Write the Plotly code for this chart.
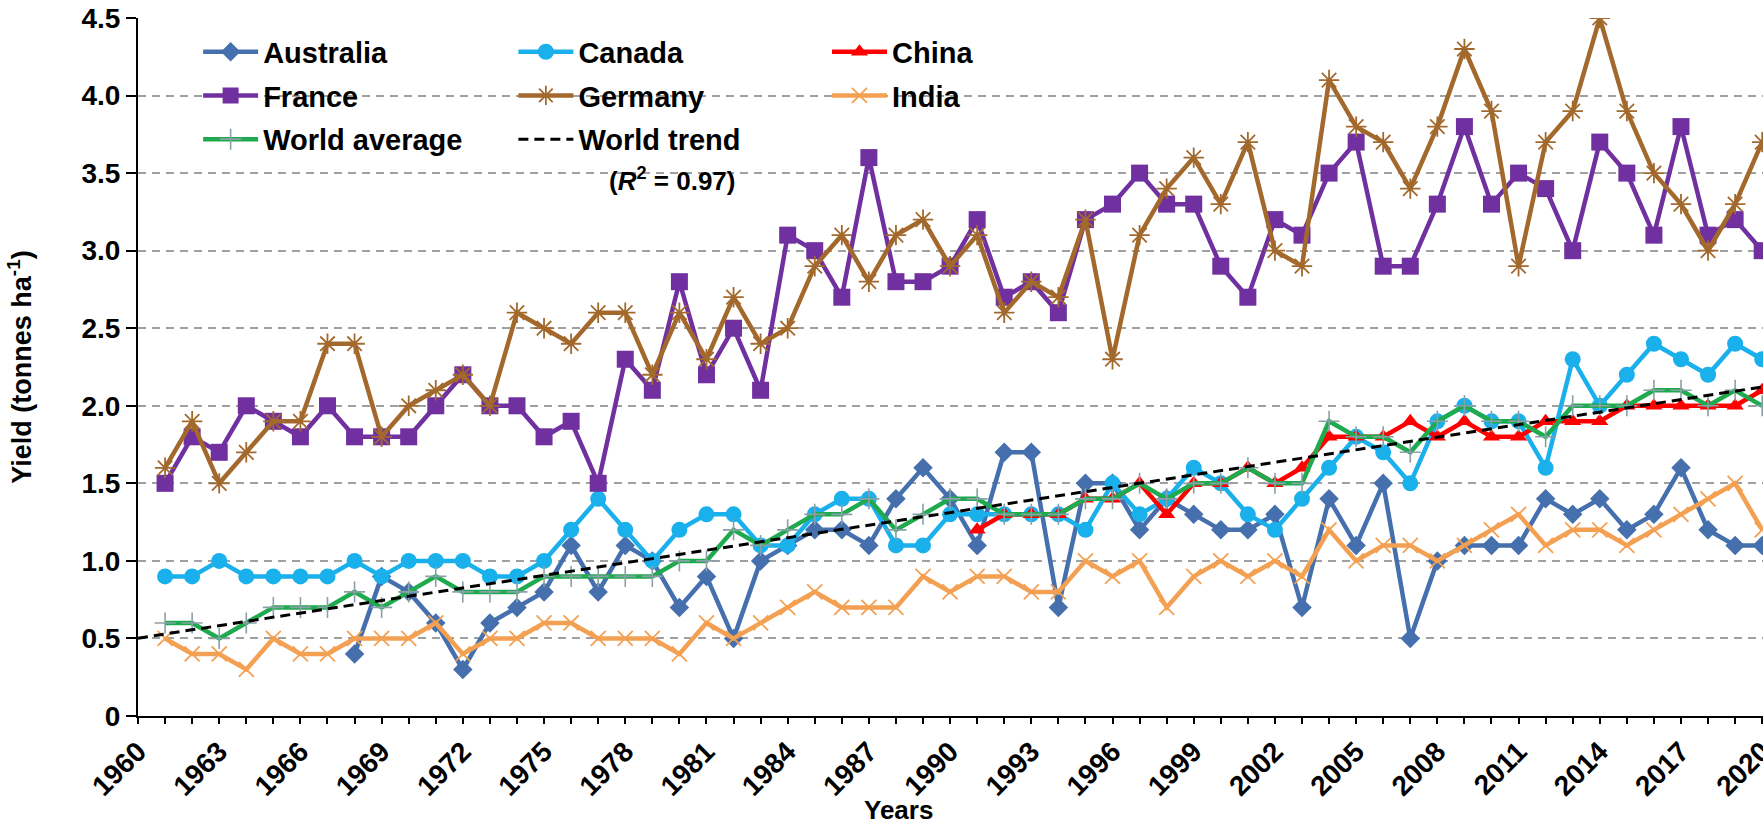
import numpy as np
import plotly.graph_objects as go

# ---------------- data ----------------
years = list(range(1961, 2021))
australia_years = list(range(1968, 2021))
china_years = list(range(1991, 2021))

australia = [0.4, 0.9, 0.8, 0.6, 0.3, 0.6, 0.7, 0.8, 1.1, 0.8,
             1.1, 1.0, 0.7, 0.9, 0.5, 1.0, 1.1, 1.2, 1.2, 1.1,
             1.4, 1.6, 1.4, 1.1, 1.7, 1.7, 0.7, 1.5, 1.5, 1.2,
             1.4, 1.3, 1.2, 1.2, 1.3, 0.7, 1.4, 1.1, 1.5, 0.5,
             1.0, 1.1, 1.1, 1.1, 1.4, 1.3, 1.4, 1.2, 1.3, 1.6,
             1.2, 1.1, 1.1]

canada = [0.9, 0.9, 1.0, 0.9, 0.9, 0.9, 0.9, 1.0, 0.9, 1.0,
          1.0, 1.0, 0.9, 0.9, 1.0, 1.2, 1.4, 1.2, 1.0, 1.2,
          1.3, 1.3, 1.1, 1.1, 1.3, 1.4, 1.4, 1.1, 1.1, 1.3,
          1.3, 1.3, 1.3, 1.3, 1.2, 1.5, 1.3, 1.4, 1.6, 1.5,
          1.3, 1.2, 1.4, 1.6, 1.8, 1.7, 1.5, 1.9, 2.0, 1.9,
          1.9, 1.6, 2.3, 2.0, 2.2, 2.4, 2.3, 2.2, 2.4, 2.3]

china = [1.2, 1.3, 1.3, 1.3, 1.4, 1.4, 1.5, 1.3, 1.5, 1.5,
         1.6, 1.5, 1.6, 1.8, 1.8, 1.8, 1.9, 1.8, 1.9, 1.8,
         1.8, 1.9, 1.9, 1.9, 2.0, 2.0, 2.0, 2.0, 2.0, 2.1]

france = [1.5, 1.8, 1.7, 2.0, 1.9, 1.8, 2.0, 1.8, 1.8, 1.8,
          2.0, 2.2, 2.0, 2.0, 1.8, 1.9, 1.5, 2.3, 2.1, 2.8,
          2.2, 2.5, 2.1, 3.1, 3.0, 2.7, 3.6, 2.8, 2.8, 2.9,
          3.2, 2.7, 2.8, 2.6, 3.2, 3.3, 3.5, 3.3, 3.3, 2.9,
          2.7, 3.2, 3.1, 3.5, 3.7, 2.9, 2.9, 3.3, 3.8, 3.3,
          3.5, 3.4, 3.0, 3.7, 3.5, 3.1, 3.8, 3.1, 3.2, 3.0]

germany = [1.6, 1.9, 1.5, 1.7, 1.9, 1.9, 2.4, 2.4, 1.8, 2.0,
           2.1, 2.2, 2.0, 2.6, 2.5, 2.4, 2.6, 2.6, 2.2, 2.6,
           2.3, 2.7, 2.4, 2.5, 2.9, 3.1, 2.8, 3.1, 3.2, 2.9,
           3.1, 2.6, 2.8, 2.7, 3.2, 2.3, 3.1, 3.4, 3.6, 3.3,
           3.7, 3.0, 2.9, 4.1, 3.8, 3.7, 3.4, 3.8, 4.3, 3.9,
           2.9, 3.7, 3.9, 4.5, 3.9, 3.5, 3.3, 3.0, 3.3, 3.7]

india = [0.5, 0.4, 0.4, 0.3, 0.5, 0.4, 0.4, 0.5, 0.5, 0.5,
         0.6, 0.4, 0.5, 0.5, 0.6, 0.6, 0.5, 0.5, 0.5, 0.4,
         0.6, 0.5, 0.6, 0.7, 0.8, 0.7, 0.7, 0.7, 0.9, 0.8,
         0.9, 0.9, 0.8, 0.8, 1.0, 0.9, 1.0, 0.7, 0.9, 1.0,
         0.9, 1.0, 0.9, 1.2, 1.0, 1.1, 1.1, 1.0, 1.1, 1.2,
         1.3, 1.1, 1.2, 1.2, 1.1, 1.2, 1.3, 1.4, 1.5, 1.2]

world_avg = [0.6, 0.6, 0.5, 0.6, 0.7, 0.7, 0.7, 0.8, 0.7, 0.8,
             0.9, 0.8, 0.8, 0.8, 0.9, 0.9, 0.9, 0.9, 0.9, 1.0,
             1.0, 1.2, 1.1, 1.2, 1.3, 1.3, 1.4, 1.2, 1.3, 1.4,
             1.4, 1.3, 1.3, 1.3, 1.4, 1.4, 1.5, 1.4, 1.5, 1.5,
             1.6, 1.5, 1.5, 1.9, 1.8, 1.8, 1.7, 1.9, 2.0, 1.9,
             1.9, 1.8, 2.0, 2.0, 2.0, 2.1, 2.1, 2.0, 2.1, 2.0]

x_tick_years = list(range(1960, 2021, 3))
x_tick_labels = [str(y) for y in x_tick_years]
y_tick_vals = [0, 0.5, 1.0, 1.5, 2.0, 2.5, 3.0, 3.5, 4.0, 4.5]
y_tick_labels = ["0", "0.5", "1.0", "1.5", "2.0", "2.5", "3.0", "3.5", "4.0", "4.5"]

# linear trend of world average (extended one year each side, like the spreadsheet trendline)
fit = np.polyfit(years, world_avg, 1)
trend_x = [years[0] - 1, years[-1] + 1]
trend_y = list(np.polyval(fit, trend_x))

FONT = "Liberation Sans, Arial, sans-serif"

fig = go.Figure()


def add_series(x, y, name, color, symbol, size, legend, open_marker=False, line_w=4.5):
    if open_marker:
        marker = dict(symbol=symbol, size=size, color=color, line=dict(width=1.8, color=color))
    else:
        marker = dict(symbol=symbol, size=size, color=color, line=dict(width=0))
    fig.add_trace(go.Scatter(x=x, y=y, name=name, mode="lines+markers",
                             line=dict(color=color, width=line_w), marker=marker,
                             legend=legend, legendgroup=name))


add_series(australia_years, australia, "Australia", "#4570ad", "diamond", 15, "legend")
add_series(years, canada, "Canada", "#1ab0ec", "circle", 16, "legend2")
add_series(china_years, china, "China", "#ff0000", "triangle-up", 15, "legend3")
add_series(years, france, "France", "#7030a0", "square", 17, "legend")
add_series(years, germany, "Germany", "#a3692c", "asterisk-open", 17, "legend2", open_marker=True)
add_series(years, india, "India", "#f4a052", "x-thin-open", 15, "legend3", open_marker=True)
fig.add_trace(go.Scatter(x=years, y=world_avg, name="World average", mode="lines+markers",
                         line=dict(color="#1faa4f", width=4.5),
                         marker=dict(symbol="cross-thin-open", size=15, color="#8aa0a8",
                                     line=dict(width=1.6, color="#8aa0a8")),
                         legend="legend", legendgroup="World average"))
fig.add_trace(go.Scatter(x=trend_x, y=trend_y, name="World trend", mode="lines",
                         line=dict(color="black", width=3, dash="10px,6px"),
                         legend="legend2", legendgroup="World trend"))

leg_common = dict(yanchor="top", xanchor="left", bgcolor="rgba(0,0,0,0)",
                  font=dict(family=FONT, size=29, color="black", weight="bold"),
                  itemwidth=55, tracegroupgap=3, borderwidth=0)

fig.update_layout(
    width=1763, height=830, autosize=False,
    margin=dict(l=138, r=0, t=18, b=114, pad=0, autoexpand=False),
    paper_bgcolor="white", plot_bgcolor="white",
    font=dict(family=FONT, size=28, color="black", weight="bold"),
    showlegend=True,
    legend=dict(x=0.037, y=0.988, **leg_common),
    legend2=dict(x=0.231, y=0.988, **leg_common),
    legend3=dict(x=0.424, y=0.988, **leg_common),
    xaxis=dict(range=[1960, 2020.03], tickmode="array", tickvals=x_tick_years, ticktext=x_tick_labels,
               tickangle=-45, ticks="outside", ticklen=6, tickwidth=2, tickcolor="black",
               ticklabeloverflow="allow", automargin=False,
               showline=True, linecolor="black", linewidth=2, showgrid=False, zeroline=False,
               tickfont=dict(family=FONT, size=28, color="black", weight="bold"),
               minor=dict(tick0=1960, dtick=1, ticks="outside", ticklen=6, tickwidth=2,
                          tickcolor="black", showgrid=False)),
    yaxis=dict(range=[0, 4.5], tickmode="array", tickvals=y_tick_vals, ticktext=y_tick_labels,
               ticks="outside", ticklen=10, tickwidth=2, tickcolor="black",
               showline=True, linecolor="black", linewidth=2, automargin=False,
               showgrid=True, gridcolor="#a0a0a0", gridwidth=1.5, griddash="8px,6px",
               zeroline=False,
               tickfont=dict(family=FONT, size=28, color="black", weight="bold"),
               title=dict(text="Yield (tonnes ha<sup>-1</sup>)", standoff=42,
                          font=dict(family=FONT, size=27, color="black", weight="bold"))),
    annotations=[
        dict(text="(<i>R</i><sup>2</sup> = 0.97)", xref="paper", yref="paper",
             x=0.3286, y=0.768, xanchor="center", yanchor="middle", showarrow=False,
             font=dict(family=FONT, size=26, color="black", weight="bold")),
        dict(text="Years", xref="paper", yref="paper", x=0.468, y=-0.135,
             xanchor="center", yanchor="middle", showarrow=False,
             font=dict(family=FONT, size=26, color="black", weight="bold")),
    ],
)

fig.write_html("out.html", config={"displayModeBar": False},
               post_script="document.body.style.margin='0';")
